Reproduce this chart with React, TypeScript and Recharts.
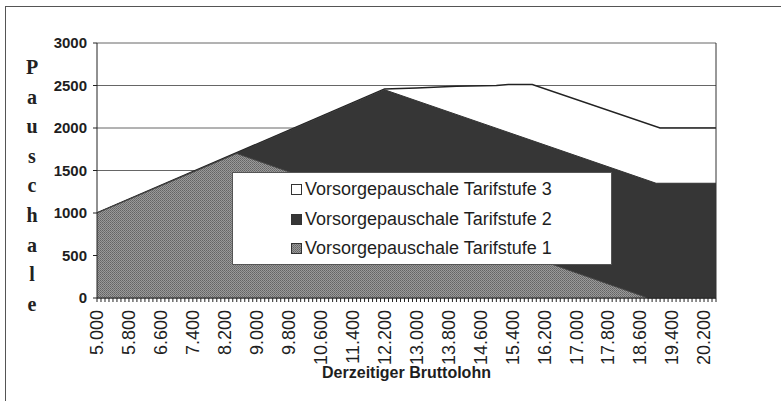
import React from "react"
import {
  AreaChart,
  Area,
  XAxis,
  YAxis,
  CartesianGrid,
  ReferenceLine,
} from "recharts"

// breakpoints (Bruttolohn -> Pauschale)
const stufe1X = [5000, 8500, 18800, 20500]
const stufe1Y = [1000, 1700, 0, 0]

const stufe2X = [5000, 12200, 19000, 20500]
const stufe2Y = [1000, 2450, 1350, 1350]

const stufe3X = [5000, 12200, 13000, 14000, 15000, 15300, 15900, 19100, 20500]
const stufe3Y = [1000, 2460, 2470, 2490, 2500, 2512, 2512, 2000, 2000]

const xTickLabels = [
  5000, 5800, 6600, 7400, 8200, 9000, 9800, 10600, 11400, 12200, 13000, 13800,
  14600, 15400, 16200, 17000, 17800, 18600, 19400, 20200,
]
const yTicks = [0, 500, 1000, 1500, 2000, 2500, 3000]

// one small tick every 100 like the original axis
const minorTicks = Array.from({ length: 156 }, (_, i) => 5000 + i * 100)

const allX = Array.from(new Set([...stufe1X, ...stufe2X, ...stufe3X])).sort((a, b) => a - b)
const data = allX.map((x) => {
  const i1 = stufe1X.indexOf(x)
  const i2 = stufe2X.indexOf(x)
  const i3 = stufe3X.indexOf(x)
  return {
    x,
    s1: i1 >= 0 ? stufe1Y[i1] : null,
    s2: i2 >= 0 ? stufe2Y[i2] : null,
    s3: i3 >= 0 ? stufe3Y[i3] : null,
  }
})

const fmt = (v: number) => `${Math.floor(v / 1000)}.${String(v % 1000).padStart(3, "0")}`

const XTick = (props: any) => {
  const { x, y, payload } = props
  if (!xTickLabels.includes(payload.value)) return <g />
  return (
    <g transform={`translate(${x},${y})`}>
      <text
        transform="rotate(-90)"
        textAnchor="end"
        dy="0.35em"
        fontSize={18}
        fontFamily="'Liberation Sans', Arial, sans-serif"
        fill="#1e1e1e"
      >
        {fmt(payload.value)}
      </text>
    </g>
  )
}

const legendItems = [
  { label: "Vorsorgepauschale Tarifstufe 3", fill: "#fff" },
  { label: "Vorsorgepauschale Tarifstufe 2", fill: "#363636" },
  { label: "Vorsorgepauschale Tarifstufe 1", fill: "url(#ldots)" },
]

const Dots = ({ id }: { id: string }) => (
  <pattern id={id} width={2} height={2} patternUnits="userSpaceOnUse">
    <rect width={2} height={2} fill="#9a9a9a" />
    <rect width={1} height={1} fill="#646464" />
    <rect x={1} y={1} width={1} height={1} fill="#727272" />
  </pattern>
)

const LegendBox = () => (
  <div
    style={{
      position: "absolute",
      left: 232,
      top: 172,
      width: 380,
      height: 93,
      background: "#fff",
      border: "1px solid #555",
      boxSizing: "border-box",
      paddingTop: 2,
      paddingLeft: 58,
      fontFamily: "'Liberation Sans', Arial, sans-serif",
      fontSize: 18,
      color: "#1e1e1e",
    }}
  >
    <svg width={0} height={0} style={{ position: "absolute" }}>
      <defs>
        <Dots id="ldots" />
      </defs>
    </svg>
    {legendItems.map((it) => (
      <div key={it.label} style={{ display: "flex", alignItems: "center", height: 29.5 }}>
        <svg width={11} height={11} style={{ marginRight: 3 }}>
          <rect x={0.5} y={0.5} width={10} height={10} fill={it.fill} stroke="#333" />
        </svg>
        <span>{it.label}</span>
      </div>
    ))}
  </div>
)

const yTitle = "Pauschale".split("")

export default function App() {
  return (
    <div style={{ position: "absolute", left: 0, top: 0, width: 781, height: 401, background: "#fff", overflow: "hidden" }}>
      <div
        style={{
          position: "absolute",
          left: 5,
          top: 6,
          width: 800,
          height: 420,
          borderLeft: "1.5px solid #555",
          borderTop: "1.5px solid #555",
        }}
      />
      <div
        style={{
          position: "absolute",
          left: 21,
          top: 53,
          width: 22,
          textAlign: "center",
          fontFamily: "'Liberation Serif', 'Times New Roman', serif",
          fontSize: 20,
          fontWeight: "bold",
          color: "#222",
        }}
      >
        {yTitle.map((c, i) => (
          <div key={i} style={{ height: 29.6, lineHeight: "29.6px" }}>
            {c}
          </div>
        ))}
      </div>
      <div style={{ position: "absolute", left: 0, top: 0 }}>
        <AreaChart width={781} height={401} data={data} margin={{ top: 43, right: 65, left: 47, bottom: 0 }}>
          <defs>
            <Dots id="dots" />
          </defs>
          <CartesianGrid vertical={false} stroke="#666" />
          <XAxis
            dataKey="x"
            type="number"
            domain={[5000, 20500]}
            ticks={minorTicks}
            interval={0}
            tick={<XTick />}
            tickSize={4}
            tickMargin={8}
            height={103}
            stroke="#222"
            axisLine={{ stroke: "#222" }}
            tickLine={{ stroke: "#222" }}
            label={{
              value: "Derzeitiger Bruttolohn",
              position: "insideBottom",
              offset: 23,
              fontSize: 16,
              fontWeight: "bold",
              fontFamily: "'Liberation Sans', Arial, sans-serif",
              fill: "#1e1e1e",
            }}
          />
          <YAxis
            type="number"
            domain={[0, 3000]}
            ticks={yTicks}
            interval={0}
            width={50}
            tickSize={4}
            tickMargin={6}
            axisLine={{ stroke: "#222" }}
            tickLine={{ stroke: "#222" }}
            tick={{
              fontSize: 15,
              fontWeight: "bold",
              fontFamily: "'Liberation Sans', Arial, sans-serif",
              fill: "#1e1e1e",
            }}
          />
          <Area
            dataKey="s3"
            type="linear"
            connectNulls
            fill="#fff"
            fillOpacity={1}
            stroke="#222"
            strokeWidth={1.5}
            isAnimationActive={false}
            dot={false}
            activeDot={false}
          />
          <Area
            dataKey="s2"
            type="linear"
            connectNulls
            fill="#363636"
            fillOpacity={1}
            stroke="#333"
            strokeWidth={1}
            isAnimationActive={false}
            dot={false}
            activeDot={false}
          />
          <Area
            dataKey="s1"
            type="linear"
            connectNulls
            fill="url(#dots)"
            fillOpacity={1}
            stroke="#444"
            strokeWidth={1}
            isAnimationActive={false}
            dot={false}
            activeDot={false}
          />
          <ReferenceLine x={20500} stroke="#333" />
        </AreaChart>
      </div>
      <LegendBox />
    </div>
  )
}
